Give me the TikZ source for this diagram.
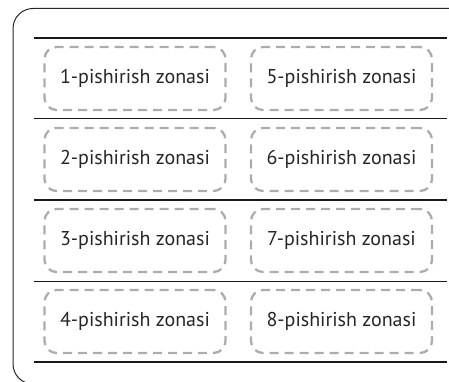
\documentclass[tikz,border=0pt]{standalone}
\usepackage{fontspec}
\setmainfont{PT Sans}
\begin{document}
\begin{tikzpicture}[x=1pt,y=-1pt,
  zone/.style={draw=zonegray, line width=2.3pt, dash pattern=on 9pt off 6pt,
    rounded corners=12pt, minimum width=181pt, minimum height=63pt,
    inner sep=0pt, font=\fontsize{20}{24}\selectfont, text=black!85},
  thickrule/.style={line width=1.8pt, black!90},
  thinrule/.style={line width=1pt, black!90},
  frame/.style={line width=1pt, black!85, rounded corners=20pt}]
\definecolor{zonegray}{RGB}{172,172,172}
\useasboundingbox (0,0) rectangle (449,382);
\clip (0,0) rectangle (449,382);
\draw[frame] (13,8.5) rectangle (470,384);
% rules
\coordinate (r0a) at (34,38);  \coordinate (r0b) at (447,38);
\coordinate (r1a) at (34,119); \coordinate (r1b) at (447,119);
\coordinate (r2a) at (34,200); \coordinate (r2b) at (447,200);
\coordinate (r3a) at (34,281); \coordinate (r3b) at (447,281);
\coordinate (r4a) at (34,362); \coordinate (r4b) at (447,362);
\draw[thickrule] (r0a) -- (r0b);
\draw[thinrule] (r1a) -- (r1b);
\draw[thickrule] (r2a) -- (r2b);
\draw[thinrule] (r3a) -- (r3b);
\draw[thickrule] (r4a) -- (r4b);
% zones
\node[zone] (z1) at (135,78.5) {1-pishirish zonasi};
\node[zone] (z2) at (135,159.5) {2-pishirish zonasi};
\node[zone] (z3) at (135,240.5) {3-pishirish zonasi};
\node[zone] (z4) at (135,321.5) {4-pishirish zonasi};
\node[zone] (z5) at (341.5,78.5) {5-pishirish zonasi};
\node[zone] (z6) at (341.5,159.5) {6-pishirish zonasi};
\node[zone] (z7) at (341.5,240.5) {7-pishirish zonasi};
\node[zone] (z8) at (341.5,321.5) {8-pishirish zonasi};
\end{tikzpicture}
\end{document}
